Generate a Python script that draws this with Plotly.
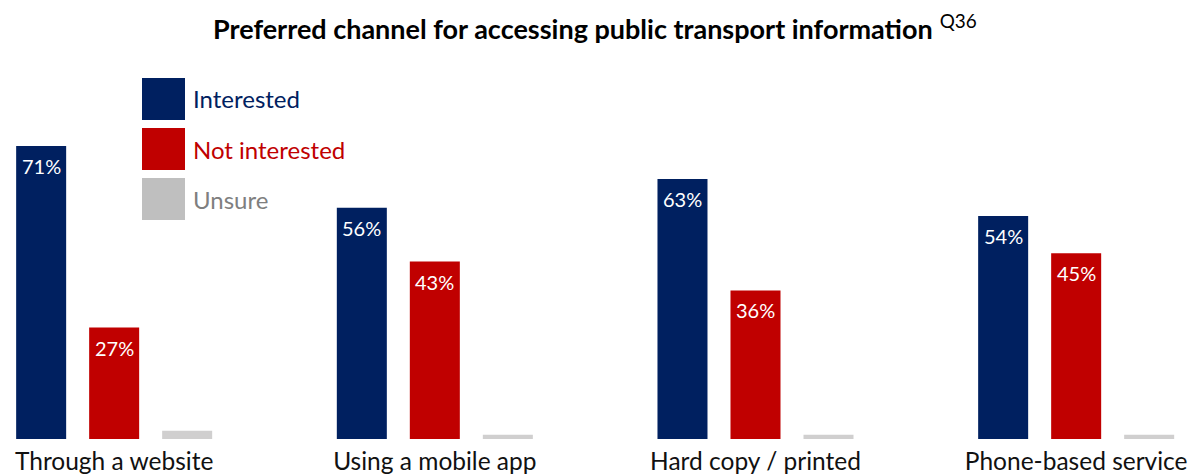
import plotly.graph_objects as go

# Survey results (Q36), percentage of respondents per channel
channels = ["Through a website", "Using a mobile app", "Hard copy / printed", "Phone-based service"]
interested = [71, 56, 63, 54]
not_interested = [27, 43, 36, 45]
unsure = [2, 1, 1, 1]

series_names = ["Interested", "Not interested", "Unsure"]
series_values = [interested, not_interested, unsure]
bar_colors = ["#002060", "#C00000", "#D0CFCF"]
legend_box_colors = ["#002060", "#C00000", "#BFBFBF"]
legend_text_colors = ["#002060", "#C00000", "#7F7F7F"]
labelled = [True, True, False]

FONT = "Lato"
W, H = 1190, 475
top_px, bottom_px = 110, 439
x_range = [-0.356, 3.355]
bargap, bargroupgap = 0.317, 0.315

fig = go.Figure()
for name, vals, col in zip(series_names, series_values, bar_colors):
    fig.add_trace(go.Bar(
        x=channels,
        y=vals,
        name=name,
        marker=dict(color=col, line=dict(width=0)),
        textposition="none",
        cliponaxis=False,
        hoverinfo="skip",
    ))

annotations, shapes = [], []

# Value labels just inside the top of each labelled bar
px_per_unit = W / (x_range[1] - x_range[0])
slot_px = px_per_unit * (1 - bargap) / len(series_names)
for k, (vals, show) in enumerate(zip(series_values, labelled)):
    if not show:
        continue
    shift = (k - (len(series_names) - 1) / 2) * slot_px
    for cat, v in zip(channels, vals):
        annotations.append(dict(
            x=cat, y=v, xref="x", yref="y", xshift=shift, yshift=-6,
            xanchor="center", yanchor="top", showarrow=False,
            text=f"{v}%", font=dict(family=FONT, size=20, color="white"),
        ))

# Legend: large colour squares with matching coloured labels
def py(p):
    return (bottom_px - p) / (bottom_px - top_px)

for i, (name, box, txt) in enumerate(zip(series_names, legend_box_colors, legend_text_colors)):
    y0 = 78 + i * 50
    shapes.append(dict(type="rect", xref="paper", yref="paper",
                       x0=142 / W, x1=185 / W, y0=py(y0 + 42), y1=py(y0),
                       fillcolor=box, line=dict(width=0)))
    annotations.append(dict(xref="paper", yref="paper", x=191 / W, y=py(y0 + 21),
                            xanchor="left", yanchor="middle", showarrow=False,
                            text=name, font=dict(family=FONT, size=24, color=txt)))

annotations.append(dict(
    xref="paper", yref="paper", x=0.5, y=py(27),
    xanchor="center", yanchor="middle", showarrow=False,
    text="<b>Preferred channel for accessing public transport information</b> <sup>Q36</sup>",
    font=dict(family=FONT, size=27, color="black"),
))

fig.update_layout(
    width=W, height=H,
    margin=dict(l=0, r=0, t=top_px, b=H - bottom_px, pad=0),
    paper_bgcolor="white", plot_bgcolor="white",
    barmode="group", bargap=bargap, bargroupgap=bargroupgap,
    showlegend=False,
    shapes=shapes, annotations=annotations,
    xaxis=dict(range=x_range, showgrid=False, zeroline=False, showline=False,
               ticks="", ticklabelstandoff=5,
               tickfont=dict(family=FONT, size=24.5, color="#111111"),
               automargin=False),
    yaxis=dict(range=[0, 79.7], visible=False, fixedrange=True),
)

fig.write_html("out.html")
